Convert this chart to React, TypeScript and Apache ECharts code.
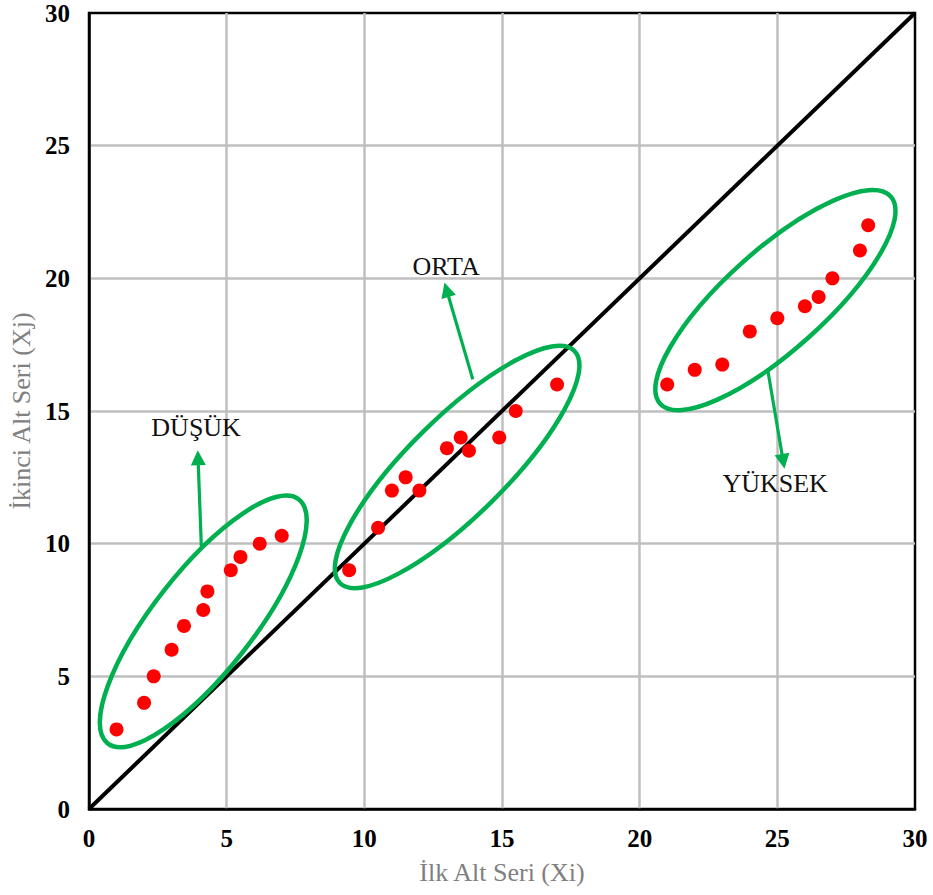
import React, { useEffect, useRef } from "react";
import * as echarts from "echarts";

// Scatter values
const dusukX = [1, 2, 2.35, 3, 3.45, 4.15, 4.3, 5.15, 5.5, 6.2, 7];
const dusukY = [3, 4, 5, 6, 6.9, 7.5, 8.2, 9, 9.5, 10, 10.3];
const ortaX = [9.45, 10.5, 11, 11.5, 12, 13, 13.5, 13.8, 14.9, 15.5, 17];
const ortaY = [9, 10.6, 12, 12.5, 12, 13.6, 14, 13.5, 14, 15, 16];
const yuksekX = [21, 22, 23, 24, 25, 26, 26.5, 27, 28, 28.3];
const yuksekY = [16, 16.55, 16.75, 18, 18.5, 18.95, 19.3, 20, 21.05, 22];

// Equality line endpoints
const diagX = [0, 30];
const diagY = [0, 30];

// Group labels
const groupNames = ["DÜŞÜK", "ORTA", "YÜKSEK"];

// Annotation geometry (data-space anchors)
const ellipseCenters = [
  [4.15, 7.07],
  [13.37, 12.89],
  [24.93, 19.18],
];
const ellipseAxes = [
  [155, 50],
  [165, 49],
  [155, 50],
];
const ellipseAngles = [51.9, 44.7, 41.9];
const arrowStarts = [
  [4.08, 9.9],
  [13.94, 16.19],
  [24.66, 16.5],
];
const arrowTips = [
  [3.95, 13.52],
  [12.91, 19.84],
  [25.26, 12.82],
];
const labelAnchors = [
  [3.89, 14.38],
  [12.97, 20.43],
  [24.92, 12.26],
];

const zip = (xs: number[], ys: number[]) => xs.map((x, i) => [x, ys[i]]);

export default function App() {
  const ref = useRef<HTMLDivElement>(null);
  useEffect(() => {
    if (!ref.current) return;
    const chart = echarts.init(ref.current, undefined, { renderer: "svg" });
    const green = "#00b050";
    const axisLabelStyle = {
      color: "#000",
      fontWeight: "bold" as const,
      fontFamily: '"Liberation Serif", serif',
      fontSize: 25,
    };
    const nameStyle = {
      color: "#808080",
      fontFamily: '"Liberation Serif", serif',
      fontSize: 26,
    };
    const pointStyle = { color: "#ff0000", opacity: 1 };
    chart.setOption({
      animation: false,
      backgroundColor: "#fff",
      grid: {
        left: 89,
        right: 18,
        top: 13,
        bottom: 86,
        show: true,
        borderColor: "#000",
        borderWidth: 2.5,
        backgroundColor: "transparent",
      },
      xAxis: {
        type: "value",
        min: 0,
        max: 30,
        interval: 5,
        name: "İlk Alt Seri (Xi)",
        nameLocation: "middle",
        nameGap: 50,
        nameTextStyle: nameStyle,
        axisLine: { show: true, lineStyle: { color: "#000", width: 2.5 } },
        axisTick: { show: false },
        axisLabel: { ...axisLabelStyle, margin: 17 },
        splitLine: {
          show: true,
          showMinLine: false,
          showMaxLine: false,
          lineStyle: { color: "#bfbfbf", width: 2.5 },
        },
      },
      yAxis: {
        type: "value",
        min: 0,
        max: 30,
        interval: 5,
        name: "İkinci Alt Seri (Xj)",
        nameLocation: "middle",
        nameGap: 50,
        nameTextStyle: nameStyle,
        axisLine: { show: true, lineStyle: { color: "#000", width: 2.5 } },
        axisTick: { show: false },
        axisLabel: { ...axisLabelStyle, margin: 19 },
        splitLine: {
          show: true,
          showMinLine: false,
          showMaxLine: false,
          lineStyle: { color: "#bfbfbf", width: 2.5 },
        },
      },
      series: [
        {
          type: "line",
          data: zip(diagX, diagY),
          symbol: "none",
          lineStyle: { color: "#000", width: 4 },
          z: 2,
          silent: true,
        },
        {
          name: groupNames[0],
          type: "scatter",
          data: zip(dusukX, dusukY),
          symbolSize: 14,
          itemStyle: pointStyle,
          z: 4,
        },
        {
          name: groupNames[1],
          type: "scatter",
          data: zip(ortaX, ortaY),
          symbolSize: 14,
          itemStyle: pointStyle,
          z: 4,
        },
        {
          name: groupNames[2],
          type: "scatter",
          data: zip(yuksekX, yuksekY),
          symbolSize: 14,
          itemStyle: pointStyle,
          z: 4,
        },
      ],
    });

    const toPx = (p: number[]) =>
      chart.convertToPixel({ gridIndex: 0 }, p) as number[];
    const elements: any[] = [];
    groupNames.forEach((name, i) => {
      const c = toPx(ellipseCenters[i]);
      elements.push({
        type: "ellipse",
        x: c[0],
        y: c[1],
        rotation: (ellipseAngles[i] * Math.PI) / 180,
        shape: { cx: 0, cy: 0, rx: ellipseAxes[i][0], ry: ellipseAxes[i][1] },
        style: { fill: "none", stroke: green, lineWidth: 4.5 },
        z: 3,
        silent: true,
      });
      const s = toPx(arrowStarts[i]);
      const t = toPx(arrowTips[i]);
      const dx = t[0] - s[0];
      const dy = t[1] - s[1];
      const len = Math.hypot(dx, dy);
      const ux = dx / len;
      const uy = dy / len;
      const headLen = 15;
      const headHalf = 7.5;
      const bx = t[0] - ux * headLen;
      const by = t[1] - uy * headLen;
      const nx = -uy;
      const ny = ux;
      elements.push({
        type: "line",
        shape: { x1: s[0], y1: s[1], x2: bx + ux * 2, y2: by + uy * 2 },
        style: { stroke: green, lineWidth: 3.2 },
        z: 3,
        silent: true,
      });
      elements.push({
        type: "polygon",
        shape: {
          points: [
            [t[0], t[1]],
            [bx + nx * headHalf, by + ny * headHalf],
            [bx - nx * headHalf, by - ny * headHalf],
          ],
        },
        style: { fill: green },
        z: 3,
        silent: true,
      });
      const l = toPx(labelAnchors[i]);
      elements.push({
        type: "text",
        x: l[0],
        y: l[1],
        style: {
          text: name,
          fill: "#111",
          fontSize: 26,
          fontFamily: '"Liberation Serif", serif',
          align: "center",
          verticalAlign: "middle",
        },
        z: 5,
        silent: true,
      });
    });
    chart.setOption({ graphic: elements });

    return () => chart.dispose();
  }, []);
  return (
    <div
      ref={ref}
      style={{ position: "absolute", left: 0, top: 0, width: 933, height: 895 }}
    />
  );
}
